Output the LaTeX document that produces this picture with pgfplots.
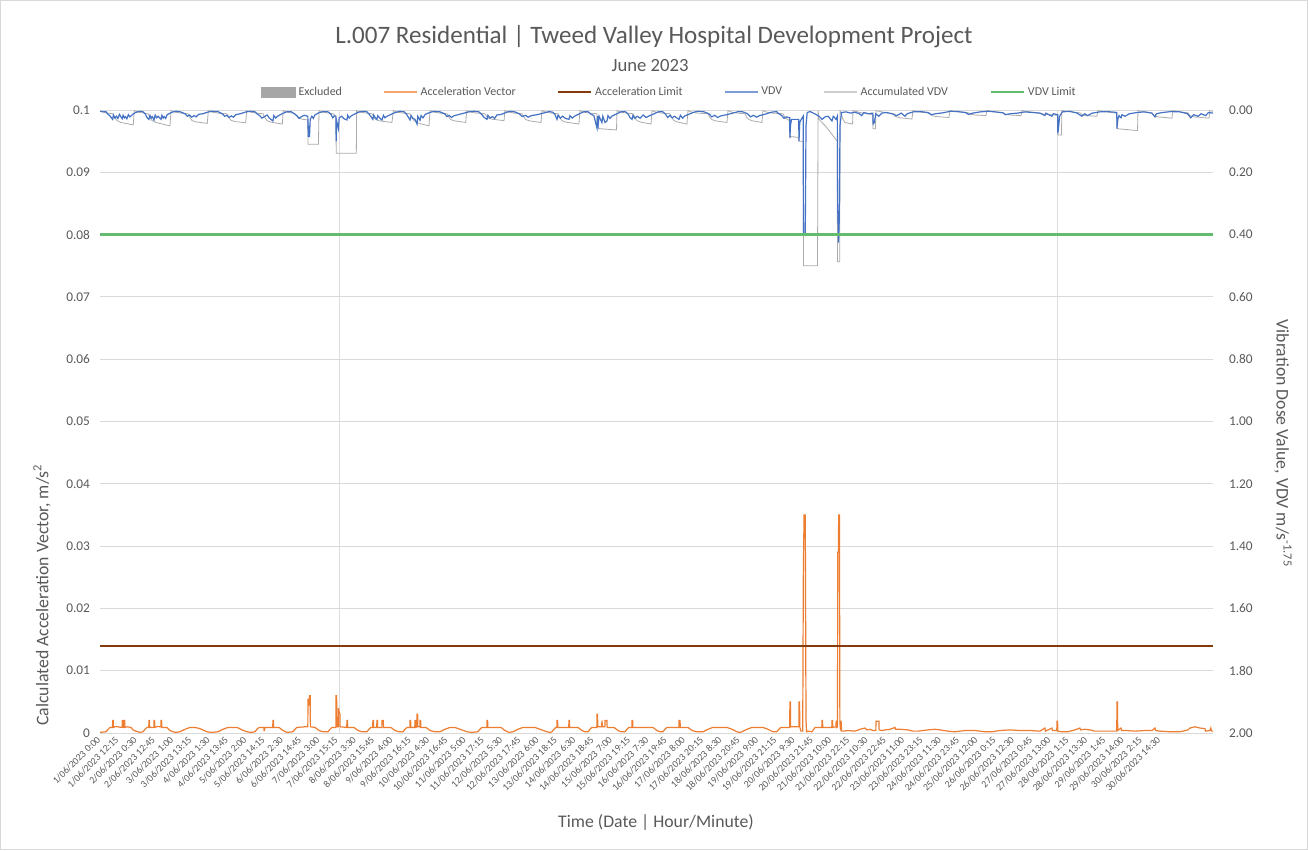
\documentclass[border=0pt]{standalone}
\usepackage{pgfplots}
\usepackage{pgfplotstable}
\pgfplotsset{compat=1.18}
\usepackage{fontspec}
\setmainfont{Carlito}
\definecolor{txt}{HTML}{595959}
\definecolor{gridc}{HTML}{D9D9D9}
\definecolor{accc}{HTML}{ED7D31}
\definecolor{alimc}{HTML}{843C0C}
\definecolor{vdvc}{HTML}{4472C4}
\definecolor{avdvc}{HTML}{ABABAB}
\definecolor{vlimc}{HTML}{62BB6E}
\definecolor{exclc}{HTML}{A6A6A6}

% Acceleration vector (hours from 1/06/2023 0:00, m/s^2)
\pgfplotstableread{
h v
0 0.0001
2.0 0.00015
4.0 0.0002
5.4 0.0006
6.7 0.0009
8.4 0.0009
8.5 0.002
8.9 0.002
9.0 0.0009
10.5 0.00105
12.1 0.001
13.5 0.00092
14.8 0.0009
14.9 0.002
15.3 0.002
15.4 0.0009
16.0 0.0009
16.1 0.002
16.6 0.002
16.7 0.0009
18.1 0.001
20.8 0.0009
22.1 0.0005
24.1 0.0003
26.8 0.0001
28.8 0.0002
30.2 0.0006
31.5 0.0009
32.7 0.0009
32.8 0.002
33.2 0.002
33.3 0.0009
36.1 0.0009
36.2 0.002
36.6 0.002
36.7 0.0009
38.5 0.00105
40.8 0.001
40.9 0.002
41.3 0.002
41.4 0.0009
44.9 0.0009
46.9 0.0004
48.9 0.0002
50.9 0.0001
53.6 0.0002
57.0 0.0006
60.3 0.0009
63.7 0.0009
67.0 0.0007
71.7 0.0002
75.1 0.0001
79.1 0.0002
82.4 0.0006
85.8 0.0009
91.8 0.0009
95.2 0.0005
98.5 0.0002
101.2 0.0001
103.9 0.0002
105.2 0.0006
106.6 0.0009
109.8 0.0009
109.9 0.0004
110.3 0.0004
110.4 0.0009
115.8 0.0009
115.9 0.002
116.3 0.002
116.4 0.0009
120.0 0.0009
122.6 0.0004
125.3 0.0001
129.3 0.0002
130.7 0.0006
132.0 0.0009
137.4 0.001
139.3 0.001
139.4 0.0055
139.8 0.0045
140.1 0.0045
140.5 0.006
140.9 0.006
141.0 0.001
144.1 0.0009
146.8 0.0004
149.5 0.0002
152.8 0.0002
154.2 0.0006
155.5 0.0009
158.1 0.0009
158.2 0.006
158.6 0.006
158.7 0.001
159.7 0.001
159.8 0.004
160.2 0.0035
160.8 0.003
160.9 0.001
165.4 0.0009
165.5 0.002
165.9 0.002
166.0 0.0009
170.2 0.0009
172.9 0.0004
175.6 0.0002
178.9 0.0002
180.2 0.0006
181.6 0.0009
182.8 0.0009
182.9 0.002
183.3 0.002
183.4 0.0009
185.5 0.0009
185.6 0.002
186.0 0.002
186.1 0.0009
188.9 0.0009
189.0 0.002
189.9 0.002
190.0 0.0009
195.0 0.0009
197.7 0.0004
200.4 0.0002
203.1 0.0002
204.4 0.0006
205.8 0.0009
207.7 0.0009
207.8 0.002
208.2 0.002
208.3 0.0009
211.0 0.0009
211.1 0.002
211.5 0.002
211.6 0.0009
212.4 0.001
212.5 0.003
212.9 0.003
213.0 0.001
214.4 0.001
214.5 0.002
214.9 0.002
215.0 0.0009
218.5 0.0009
221.2 0.0004
224.5 0.0002
227.9 0.0002
231.2 0.0006
234.6 0.0009
237.9 0.0009
241.3 0.0006
246.0 0.0002
249.3 0.0001
253.3 0.0002
254.6 0.0006
256.0 0.0009
259.3 0.0009
259.4 0.002
259.8 0.002
259.9 0.0009
268.8 0.0009
271.4 0.0004
274.1 0.0001
276.8 0.0002
280.1 0.0006
283.5 0.0009
291.5 0.0009
294.9 0.0006
299.6 0.0002
301.6 0.0001
302.9 0.0002
304.2 0.0006
305.6 0.0009
306.2 0.0009
306.3 0.002
306.7 0.002
306.8 0.0009
314.2 0.0009
314.3 0.002
314.7 0.002
314.8 0.0009
320.4 0.0009
323.0 0.0004
325.0 0.0002
327.1 0.0002
328.4 0.0006
329.7 0.0009
333.0 0.0009
333.1 0.003
333.5 0.003
333.6 0.001
336.3 0.001
336.4 0.002
336.8 0.001
338.4 0.001
338.5 0.002
339.8 0.002
339.9 0.0009
344.5 0.0009
347.2 0.0004
349.2 0.0002
351.9 0.0002
353.2 0.0006
354.5 0.0009
356.5 0.0009
356.6 0.002
357.0 0.002
357.1 0.0009
370.6 0.0009
373.3 0.0004
375.3 0.0002
377.3 0.0002
378.6 0.0006
380.0 0.0009
388.0 0.0009
388.1 0.002
388.8 0.002
388.9 0.0009
394.1 0.0009
396.8 0.0004
400.1 0.0002
404.1 0.0002
407.5 0.0006
410.8 0.0009
420.2 0.0009
423.6 0.0006
426.9 0.0002
428.9 0.0001
430.3 0.0002
433.6 0.0006
437.0 0.0009
444.3 0.0009
447.7 0.0006
451.0 0.0002
453.7 0.0002
455.0 0.0006
456.4 0.0009
462.3 0.0009
462.4 0.005
462.8 0.005
462.9 0.001
468.4 0.001
468.5 0.005
468.9 0.005
469.0 0.001
469.8 0.0003
471.0 0.0003
471.4 0.025
471.9 0.035
472.7 0.035
473.2 0.002
473.6 0.0002
474.5 0.0003
477.2 0.0002
479.3 0.0009
483.8 0.0009
483.9 0.002
484.3 0.002
484.4 0.0009
490.5 0.0009
490.6 0.002
491.0 0.002
491.1 0.0009
493.3 0.001
493.4 0.002
493.8 0.0009
494.3 0.001
494.5 0.029
494.9 0.029
495.1 0.035
495.6 0.035
495.9 0.002
496.3 0.0004
496.7 0.002
497.1 0.0003
498.0 0.0003
501.3 0.0004
506.0 0.0003
509.4 0.0006
512.7 0.0008
514.0 0.0005
516.1 0.0006
518.1 0.0004
520.0 0.0004
520.1 0.0019
522.1 0.0019
522.2 0.0005
524.1 0.0004
526.1 0.0005
529.5 0.0006
532.8 0.0009
533.2 0.0006
536.2 0.0006
541.5 0.0005
544.9 0.0003
548.2 0.0003
554.9 0.0005
559.6 0.0006
563.0 0.0005
568.3 0.0003
573.0 0.0002
579.7 0.0004
586.4 0.0004
593.1 0.0002
597.8 0.0002
603.2 0.0004
609.9 0.0005
616.6 0.0004
623.3 0.0004
630.0 0.0003
633.3 0.0008
633.7 0.0003
638.0 0.0008
638.4 0.0004
641.3 0.0004
641.4 0.0019
641.8 0.0019
642.0 0.0003
644.7 0.0002
648.8 0.0002
653.4 0.0005
656.8 0.0008
657.2 0.0005
660.1 0.0006
663.5 0.0005
666.8 0.0003
673.5 0.0003
680.3 0.0003
681.5 0.0003
681.6 0.005
682.0 0.005
682.1 0.0004
684.3 0.0008
684.8 0.0004
687.6 0.0004
693.7 0.0003
700.4 0.0004
705.1 0.0004
707.1 0.0008
707.5 0.0004
710.4 0.0003
717.1 0.0002
723.9 0.0002
729.2 0.0005
730.5 0.0008
733.9 0.001
737.2 0.0008
740.6 0.0007
741.0 0.0003
743.9 0.0004
744.5 0.0008
745.0 0.0003
746.0 0.0003
}\accdata

% VDV (m/s^1.75)
\pgfplotstableread{
h v
0 0.004
2 0.006
4 0.005
5 0.012
6.5 0.018
7.5 0.024
8.5 0.03
9 0.016
10 0.026
11 0.02
12 0.027
13 0.014
14.9 0.028
15.5 0.017
16.3 0.025
17 0.021
18 0.028
19 0.015
20 0.022
21 0.018
23 0.01
25 0.006
27 0.004
29 0.006
30.5 0.014
31.5 0.024
32.8 0.03
33.5 0.017
34.3 0.026
35 0.021
36.2 0.032
37 0.016
38 0.025
39 0.02
40.9 0.03
41.5 0.017
42.3 0.026
43 0.021
44 0.027
45 0.015
47 0.01
49 0.006
51 0.004
54 0.006
57 0.012
58.5 0.02
60 0.016
61.5 0.023
63 0.018
64.5 0.022
66 0.014
69 0.012
72 0.007
75 0.004
79 0.005
82 0.012
83.5 0.02
85 0.017
86.5 0.024
88 0.019
89.5 0.023
91 0.015
94 0.012
98 0.006
101 0.004
104 0.006
105.5 0.013
107 0.018
108.5 0.026
110 0.022
112 0.016
113.5 0.026
115.9 0.035
116.5 0.018
117.8 0.026
119 0.02
122 0.012
125 0.006
128 0.005
130.5 0.013
132 0.018
133.5 0.027
135 0.021
137 0.017
139.3 0.02
139.6 0.087
139.9 0.05
140.4 0.087
140.9 0.03
142 0.02
143 0.027
144 0.016
147 0.008
150 0.005
153 0.006
155 0.015
156 0.025
157 0.019
158.1 0.02
158.3 0.10
158.6 0.035
159.8 0.06
160.3 0.025
162 0.02
163.5 0.028
165.5 0.032
166 0.017
167 0.026
168 0.02
171 0.012
174 0.006
177 0.004
179 0.006
180.5 0.014
182.9 0.03
183.5 0.016
184.5 0.025
185.6 0.03
186.2 0.018
187.5 0.026
189 0.032
190 0.017
191 0.025
192 0.021
195 0.014
198 0.008
201 0.004
204 0.006
205.5 0.014
207.8 0.032
208.5 0.018
209.8 0.027
211.1 0.03
212.5 0.045
213 0.02
214.5 0.033
215.2 0.018
216.5 0.025
218 0.014
221 0.008
224 0.004
228 0.006
231 0.012
232.5 0.021
234 0.017
235.5 0.024
237 0.019
240 0.015
244 0.01
248 0.005
251 0.004
254 0.006
256 0.015
257.5 0.024
259.4 0.03
260 0.017
261.5 0.026
263 0.021
264.5 0.027
266 0.016
269 0.014
272 0.008
275 0.004
278 0.006
281 0.012
283 0.021
285 0.017
287 0.023
289 0.018
293 0.015
297 0.01
301 0.005
303.5 0.007
305 0.015
306.3 0.03
307 0.017
308.5 0.026
310 0.02
312 0.027
314.3 0.03
315 0.018
316.5 0.026
318 0.02
321 0.013
324 0.006
327 0.005
329 0.013
331 0.018
333.1 0.058
333.4 0.02
334 0.045
334.5 0.02
336.4 0.04
337 0.02
338.5 0.04
339.8 0.035
340.5 0.018
341.8 0.027
343 0.02
346 0.013
349 0.006
352 0.005
354 0.013
355.2 0.024
356.6 0.03
357.2 0.017
358.5 0.027
360 0.02
362 0.026
364 0.016
366 0.024
368 0.019
371 0.013
374 0.006
377 0.005
379 0.013
380.5 0.024
382 0.017
383.5 0.025
385 0.02
388.1 0.03
389 0.017
390.5 0.026
392 0.019
395 0.013
398 0.007
401 0.004
405 0.006
408 0.012
410 0.022
412 0.017
414 0.024
416 0.019
420 0.015
424 0.01
428 0.005
431 0.006
434 0.012
436 0.022
438 0.017
440 0.023
442 0.018
446 0.013
450 0.007
453.5 0.005
455 0.012
457 0.018
458.5 0.027
460 0.022
462.3 0.025
462.4 0.09
462.8 0.05
463.5 0.03
465 0.03
468.3 0.03
468.5 0.10
469 0.04
470 0.03
471.3 0.02
471.5 0.40
472.7 0.40
473.2 0.05
474 0.008
476 0.005
479 0.012
482 0.02
484 0.03
486 0.022
488 0.02
490.6 0.035
491.5 0.02
493.4 0.03
494.2 0.02
494.4 0.30
495.0 0.426
495.5 0.35
496.0 0.05
497 0.008
500 0.006
503 0.01
506 0.007
509 0.012
510.5 0.018
512 0.008
515 0.012
518.0 0.01
518.2 0.045
519 0.04
520 0.012
522 0.02
524 0.01
527 0.008
531 0.012
534 0.018
537 0.01
539.5 0.02
541 0.012
545 0.006
550 0.005
555 0.008
557 0.015
560 0.012
565 0.009
570 0.004
575 0.005
580 0.008
582 0.014
585 0.01
590 0.006
595 0.004
600 0.006
605 0.009
607 0.015
610 0.012
615 0.01
620 0.006
625 0.008
630 0.01
633.3 0.018
634 0.01
638 0.02
639 0.012
641.9 0.015
642.0 0.075
642.6 0.05
643.2 0.02
645 0.006
650 0.004
655 0.01
658 0.02
660 0.012
662 0.018
665 0.01
670 0.006
675 0.005
680 0.007
681.5 0.008
681.6 0.06
682.2 0.03
683 0.018
684.3 0.025
685 0.015
687 0.02
690 0.012
695 0.008
700 0.006
705 0.01
707.1 0.022
708 0.012
712 0.008
718 0.005
724 0.006
729 0.012
731 0.025
733 0.015
736 0.02
738 0.012
741 0.018
743 0.008
746 0.01
}\vdvdata

% Accumulated VDV (m/s^1.75)
\pgfplotstableread{
h v
0 0.003
4.0 0.009
8.6 0.012
10.1 0.025
11.4 0.034
14.1 0.040
22.3 0.048
23.0 0.002
25.7 0.007
29.7 0.010
32.2 0.012
33.5 0.025
34.9 0.034
37.5 0.040
46.9 0.051
47.6 0.002
50.3 0.007
54.3 0.010
59.0 0.012
60.3 0.025
61.7 0.034
64.3 0.038
71.9 0.043
72.6 0.002
75.3 0.007
79.3 0.010
85.1 0.012
86.5 0.025
87.8 0.033
90.5 0.037
97.6 0.041
98.3 0.002
101.0 0.007
105.0 0.010
109.2 0.012
110.6 0.025
111.9 0.034
114.6 0.039
122.2 0.045
122.8 0.002
125.5 0.007
129.5 0.010
130.7 0.012
132.7 0.025
136.1 0.030
139.3 0.032
139.4 0.11
146.4 0.11
146.8 0.002
149.5 0.007
153.5 0.010
156.2 0.012
158.2 0.02
158.3 0.139
171.8 0.139
172.0 0.002
174.7 0.007
178.7 0.010
182.3 0.012
183.6 0.024
185.0 0.031
187.7 0.035
195.7 0.040
196.6 0.002
199.3 0.007
203.3 0.010
207.8 0.012
209.1 0.025
210.4 0.034
213.1 0.042
220.5 0.051
221.2 0.002
223.8 0.007
227.9 0.010
232.6 0.012
233.9 0.024
235.2 0.031
237.9 0.035
245.1 0.040
245.8 0.002
248.4 0.007
252.5 0.010
258.0 0.012
259.4 0.022
260.7 0.027
263.4 0.030
270.8 0.034
271.4 0.002
274.1 0.007
278.1 0.010
282.8 0.012
284.2 0.024
285.5 0.031
288.2 0.035
295.6 0.040
296.2 0.002
298.9 0.007
302.9 0.010
307.0 0.012
308.3 0.025
309.6 0.034
312.3 0.039
321.0 0.045
321.7 0.002
324.4 0.007
328.4 0.010
333.1 0.012
333.2 0.055
335.1 0.06
346.2 0.064
346.5 0.002
349.2 0.007
353.2 0.010
357.2 0.012
358.6 0.025
359.9 0.034
362.6 0.039
369.3 0.045
370.0 0.002
372.6 0.007
376.7 0.010
382.0 0.012
383.4 0.025
384.7 0.034
387.4 0.039
393.4 0.045
394.1 0.002
396.8 0.007
400.8 0.010
407.5 0.012
408.8 0.024
410.2 0.031
412.8 0.035
420.2 0.040
420.9 0.002
423.6 0.007
427.6 0.010
432.3 0.012
433.6 0.024
435.0 0.031
437.7 0.035
443.7 0.040
444.3 0.002
447.0 0.007
451.0 0.010
457.8 0.012
459.1 0.025
462.3 0.035
462.4 0.085
468.3 0.088
468.5 0.10
471.3 0.10
471.5 0.50
480.9 0.50
481.3 0.002
481.9 0.03
486.0 0.05
489.3 0.07
494.1 0.10
494.3 0.487
495.8 0.487
496.0 0.002
496.7 0.01
498.0 0.03
499.3 0.04
504.4 0.045
504.7 0.002
509.4 0.008
517.9 0.015
518.1 0.06
519.7 0.06
520.1 0.002
526.1 0.008
531.5 0.012
532.8 0.02
536.2 0.025
544.2 0.029
544.9 0.002
549.6 0.007
556.3 0.010
557.6 0.018
560.3 0.021
569.0 0.024
569.7 0.002
575.0 0.006
581.7 0.008
583.1 0.013
586.4 0.016
593.8 0.018
594.5 0.002
599.8 0.006
605.2 0.008
606.5 0.013
609.9 0.016
617.3 0.018
617.9 0.002
623.3 0.006
630.0 0.010
633.3 0.014
641.9 0.017
642.0 0.08
644.4 0.08
644.7 0.002
650.1 0.006
656.8 0.009
658.2 0.015
660.8 0.018
668.2 0.020
668.9 0.002
674.2 0.006
681.5 0.010
681.6 0.06
695.4 0.066
695.7 0.002
700.4 0.006
705.1 0.009
706.4 0.018
709.1 0.022
718.5 0.026
719.1 0.002
723.9 0.006
729.2 0.009
730.5 0.018
733.2 0.022
743.3 0.026
743.9 0.002
746.0 0.004
}\avdvdata

\pgfplotsset{
  basecfg/.style={
    at={(75pt,-549.75pt)}, anchor=south west,
    scale only axis, width=834.75pt, height=467.25pt,
    xmin=0, xmax=746,
    axis line style={draw=none}, tick style={draw=none},
    ticklabel style={text=txt},
    label style={text=txt, font=\fontsize{13.3}{16}\selectfont},
  }
}

\begin{document}
\begin{tikzpicture}
\path[use as bounding box] (0,0) rectangle (981pt,-637.5pt);
\draw[gridc, line width=0.75pt] (0.4pt,-0.4pt) rectangle (980.6pt,-637.1pt);
\node[text=txt, font=\fontsize{18.8}{22}\selectfont] at (490.5pt,-27.75pt) {L.007 Residential | Tweed Valley Hospital Development Project};
\node[text=txt, font=\fontsize{14}{17}\selectfont] at (487.5pt,-49.5pt) {June 2023};

\begin{axis}[basecfg,
  ymin=0, ymax=0.1,
  ytick={0,0.01,0.02,0.03,0.04,0.05,0.06,0.07,0.08,0.09,0.1},
  yticklabels={0,0.01,0.02,0.03,0.04,0.05,0.06,0.07,0.08,0.09,0.1},
  yticklabel style={font=\fontsize{10}{12}\selectfont, xshift=-4pt},
  ymajorgrids, major grid style={gridc, line width=0.75pt},
  xtick={0,12.25,...,711},
  xticklabels={1/06/2023 0:00,1/06/2023 12:15,2/06/2023 0:30,2/06/2023 12:45,3/06/2023 1:00,3/06/2023 13:15,4/06/2023 1:30,4/06/2023 13:45,5/06/2023 2:00,5/06/2023 14:15,6/06/2023 2:30,6/06/2023 14:45,7/06/2023 3:00,7/06/2023 15:15,8/06/2023 3:30,8/06/2023 15:45,9/06/2023 4:00,9/06/2023 16:15,10/06/2023 4:30,10/06/2023 16:45,11/06/2023 5:00,11/06/2023 17:15,12/06/2023 5:30,12/06/2023 17:45,13/06/2023 6:00,13/06/2023 18:15,14/06/2023 6:30,14/06/2023 18:45,15/06/2023 7:00,15/06/2023 19:15,16/06/2023 7:30,16/06/2023 19:45,17/06/2023 8:00,17/06/2023 20:15,18/06/2023 8:30,18/06/2023 20:45,19/06/2023 9:00,19/06/2023 21:15,20/06/2023 9:30,20/06/2023 21:45,21/06/2023 10:00,21/06/2023 22:15,22/06/2023 10:30,22/06/2023 22:45,23/06/2023 11:00,23/06/2023 23:15,24/06/2023 11:30,24/06/2023 23:45,25/06/2023 12:00,26/06/2023 0:15,26/06/2023 12:30,27/06/2023 0:45,27/06/2023 13:00,28/06/2023 1:15,28/06/2023 13:30,29/06/2023 1:45,29/06/2023 14:00,30/06/2023 2:15,30/06/2023 14:30},
  xticklabel style={rotate=45, anchor=east, font=\fontsize{7.4}{8}\selectfont, yshift=-2pt},
  xlabel={Time (Date | Hour/Minute)},
  xlabel style={at={(axis description cs:0.4996,-0.1429)}, anchor=center},
  ylabel={Calculated Acceleration Vector, m/s\textsuperscript{2}},
  ylabel style={at={(axis description cs:-0.0521,0.2215)}, anchor=center},
  legend columns=6,
  legend style={at={(axis description cs:0.5117,1.0289)}, anchor=center, draw=none, fill=none,
    font=\fontsize{9}{11}\selectfont, text=txt,
    /tikz/every even column/.append style={column sep=29pt}},
]
\addplot[forget plot, ycomb, gridc!90, line width=0.8pt] coordinates {(160.8,0.1) (641.5,0.1)};
\addplot[forget plot, accc, line width=0.9pt] table[x=h, y=v] {\accdata};
\addplot[forget plot, alimc, line width=1.5pt] coordinates {(0,0.014) (746,0.014)};
\addlegendimage{legend image code/.code={\fill[exclc] (0pt,-3.6pt) rectangle (26pt,3.6pt);}}
\addlegendentry{Excluded}
\addlegendimage{legend image code/.code={\draw[accc!70, line width=1pt] (0pt,0pt) -- (25pt,0pt);}}
\addlegendentry{Acceleration Vector}
\addlegendimage{legend image code/.code={\draw[alimc, line width=1.5pt] (0pt,0pt) -- (25pt,0pt);}}
\addlegendentry{Acceleration Limit}
\addlegendimage{legend image code/.code={\draw[vdvc!70, line width=1pt] (0pt,0pt) -- (25pt,0pt);}}
\addlegendentry{VDV}
\addlegendimage{legend image code/.code={\draw[avdvc!60, line width=0.8pt] (0pt,0pt) -- (25pt,0pt);}}
\addlegendentry{Accumulated VDV}
\addlegendimage{legend image code/.code={\draw[vlimc, line width=2pt] (0pt,0pt) -- (25pt,0pt);}}
\addlegendentry{VDV Limit}
\end{axis}

\begin{axis}[basecfg,
  ymin=0, ymax=2, y dir=reverse,
  axis x line=none,
  axis y line*=right,
  ytick={0,0.2,0.4,0.6,0.8,1,1.2,1.4,1.6,1.8,2},
  yticklabels={0.00,0.20,0.40,0.60,0.80,1.00,1.20,1.40,1.60,1.80,2.00},
  yticklabel style={font=\fontsize{10}{12}\selectfont, xshift=8.5pt},
  ylabel={Vibration Dose Value, VDV m/s\textsuperscript{-1.75}},
  ylabel style={at={(axis description cs:1.0629,0.465)}, anchor=center, rotate=180},
]
\addplot[avdvc, line width=0.6pt] table[x=h, y=v] {\avdvdata};
\addplot[vdvc, line width=0.9pt] table[x=h, y=v] {\vdvdata};
\addplot[vlimc, line width=2pt] coordinates {(0,0.4) (746,0.4)};
\end{axis}
\end{tikzpicture}
\end{document}
